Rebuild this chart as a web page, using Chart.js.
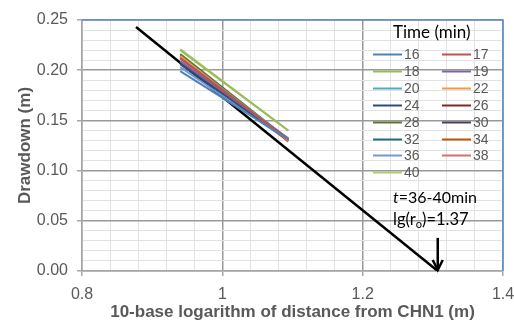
<!DOCTYPE html>
<html><head><meta charset="utf-8">
<script src="https://cdn.jsdelivr.net/npm/chart.js@4.4.1/dist/chart.umd.min.js"></script>
<style>html,body{margin:0;padding:0;background:#fff}#wrap{width:514px;height:326px}</style>
</head><body><div id="wrap"><canvas id="c" width="514" height="326"></canvas></div>
<script>
// ---- data ----
const times = ['16','17','18','19','20','22','24','26','28','30','32','34','36','38','40'];
const logDistance = [0.94, 1.094];
const drawdownNear = [0.199,0.212,0.220,0.209,0.212,0.214,0.206,0.213,0.216,0.208,0.215,0.214,0.203,0.212,0.221];
const drawdownFar  = [0.131,0.131,0.140,0.132,0.132,0.130,0.131,0.130,0.131,0.131,0.131,0.129,0.130,0.131,0.140];
const fitX = [0.877, 1.307];
const fitY = [0.243, 0];
const arrowX = [1.307, 1.307];
const arrowY = [0.033, 0];
const xTickLabels = ['0.8','1','1.2','1.4'];
const yTickLabels = ['0.00','0.05','0.10','0.15','0.20','0.25'];
const legendTitle = 'Time (min)';
const noteTime = '=36-40min';
const noteR0 = ')=1.37';

// ---- styles ----
const palette = ['#4F81BD','#C0504D','#9BBB59','#8064A2','#4BACC6','#F79646','#2C4D75','#772C2A','#5F7530','#4D3B62','#276A7C','#B65708','#729ACA','#CD7371','#AFC97A'];
const isMajor = (v, step) => Math.abs(v/step - Math.round(v/step)) < 1e-6;

const datasets = times.map((t,i)=>({
  label: t,
  data: logDistance.map((x,j)=>({x, y: j===0 ? drawdownNear[i] : drawdownFar[i]})),
  borderColor: palette[i], backgroundColor: palette[i],
  borderWidth: 2, pointRadius: 0, showLine: true, fill: false
}));
datasets.push({
  label: 'fit',
  data: fitX.map((x,j)=>({x, y: fitY[j]})),
  borderColor: '#000', borderWidth: 2.5, pointRadius: 0, showLine: true, fill: false
});

const overlay = {
  id: 'overlay',
  afterDatasetsDraw(chart){
    const {ctx, chartArea: a, scales: {x, y}} = chart;
    ctx.save();
    // arrow
    const ax = x.getPixelForValue(arrowX[0]);
    const ay0 = y.getPixelForValue(arrowY[0]);
    const ay1 = y.getPixelForValue(arrowY[1]);
    ctx.strokeStyle = '#000'; ctx.lineWidth = 2.5; ctx.lineCap = 'butt';
    ctx.beginPath(); ctx.moveTo(ax, ay0); ctx.lineTo(ax, ay1-1); ctx.stroke();
    ctx.beginPath(); ctx.moveTo(ax-5, ay1-11); ctx.lineTo(ax, ay1-1); ctx.lineTo(ax+5, ay1-11); ctx.stroke();
    // annotation
    ctx.fillStyle = '#000'; ctx.textBaseline = 'alphabetic'; ctx.textAlign = 'left';
    let tx = 393;
    ctx.font = 'italic 16px Lato'; ctx.fillText('t', tx, 203);
    tx += ctx.measureText('t').width;
    ctx.font = '16px Lato'; ctx.fillText(noteTime, tx, 203);
    tx = 393;
    ctx.font = '16.5px Lato';
    ctx.fillText('lg(r', tx, 225); tx += ctx.measureText('lg(r').width;
    ctx.font = '11px Lato'; ctx.fillText('o', tx, 228); tx += ctx.measureText('o').width;
    ctx.font = '16.5px Lato'; ctx.fillText(noteR0, tx, 225);
    // legend
    ctx.font = '17px Lato'; ctx.textBaseline = 'middle';
    ctx.fillText(legendTitle, 393, 33);
    ctx.font = '14px "Liberation Sans"'; ctx.fillStyle = '#595959';
    times.forEach((t,i)=>{
      const col = i%2, row = Math.floor(i/2);
      const lx = col ? 442 : 373; const ly = Math.round(54 + row*16.9) + 0.5;
      ctx.strokeStyle = palette[i]; ctx.lineWidth = 2;
      ctx.beginPath(); ctx.moveTo(lx, ly); ctx.lineTo(lx+29, ly); ctx.stroke();
      ctx.fillText(t, lx+31, ly+1);
    });
    // top/right border
    ctx.strokeStyle = '#5B8FD0'; ctx.lineWidth = 1.5;
    ctx.beginPath(); ctx.moveTo(a.left, a.top); ctx.lineTo(a.right, a.top); ctx.lineTo(a.right, a.bottom); ctx.stroke();
    ctx.restore();
  }
};

new Chart(document.getElementById('c'), {
  type: 'scatter',
  data: { datasets },
  options: {
    responsive: false, animation: false, devicePixelRatio: 1,
    layout: { padding: { left: 0, top: 20, right: 11, bottom: 0 } },
    plugins: { legend: { display: false }, tooltip: { enabled: false } },
    scales: {
      x: {
        type: 'linear', min: 0.8, max: 1.4,
        ticks: { stepSize: 0.04, autoSkip: false, maxRotation: 0, padding: 9,
          color: '#595959', font: { family: '"Liberation Sans"', size: 16 },
          callback: v => isMajor(v - 0.8, 0.2) ? xTickLabels[Math.round((v-0.8)/0.2)] : '' },
        grid: {
          color: c => isMajor(c.tick.value - 0.8, 0.2) ? '#999999' : '#e2e2e2',
          lineWidth: c => isMajor(c.tick.value - 0.8, 0.2) ? 1.5 : 1,
          tickColor: c => isMajor(c.tick.value - 0.8, 0.2) ? '#a6a6a6' : 'rgba(0,0,0,0)',
          tickLength: 5
        },
        border: { display: true, color: '#a6a6a6', width: 1.5 },
        title: { display: true, text: '10-base logarithm of distance from CHN1 (m)',
          color: '#595959', font: { family: '"Liberation Sans"', size: 17, weight: 'bold' },
          padding: { top: 0, bottom: 3 } },
        afterFit: s => { s.height = 55; s.paddingLeft = 0; s.paddingRight = 0; }
      },
      y: {
        type: 'linear', min: 0, max: 0.25,
        ticks: { stepSize: 0.01, autoSkip: false, padding: 9,
          color: '#595959', font: { family: '"Liberation Sans"', size: 16 },
          callback: v => isMajor(v, 0.05) ? yTickLabels[Math.round(v/0.05)] : '' },
        grid: {
          color: c => isMajor(c.tick.value, 0.05) ? '#999999' : '#e2e2e2',
          lineWidth: c => isMajor(c.tick.value, 0.05) ? 1.5 : 1,
          tickColor: c => isMajor(c.tick.value, 0.05) ? '#a6a6a6' : 'rgba(0,0,0,0)',
          tickLength: 5
        },
        border: { display: true, color: '#a6a6a6', width: 1.5 },
        title: { display: true, text: 'Drawdown (m)',
          color: '#595959', font: { family: '"Liberation Sans"', size: 17, weight: 'bold' },
          padding: { top: 15, bottom: 0 } },
        afterFit: s => { s.width = 82; s.paddingTop = 0; s.paddingBottom = 0; }
      }
    }
  },
  plugins: [overlay]
});
</script>
</body></html>
